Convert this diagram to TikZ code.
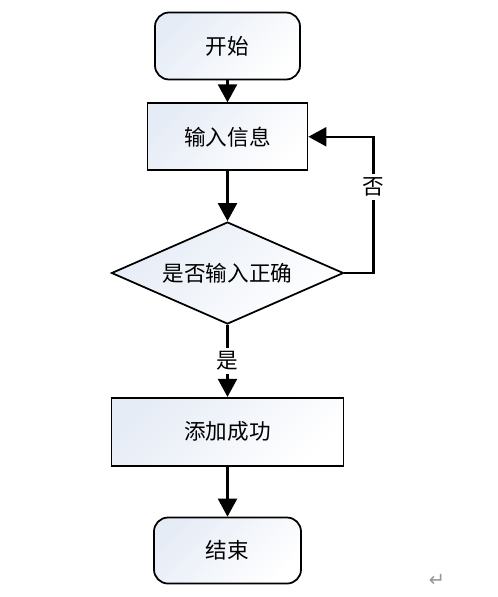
\documentclass[tikz,border=0pt]{standalone}
\usepackage{fontspec}
\setmainfont{Noto Sans CJK SC}
\newfontfamily\symfont{DejaVu Sans}
\usepackage{xcolor}
\definecolor{flowline}{RGB}{0, 0, 0}
\definecolor{boxshade}{RGB}{230, 236, 246}
\definecolor{markgray}{RGB}{150, 150, 150}
\usetikzlibrary{positioning, shapes.geometric, arrows.meta}

\begin{document}
\begin{tikzpicture}[node distance=0.5cm, >={Triangle[width=0.38cm, length=0.36cm]},
    every node/.style={font=\fontsize{12.3}{14}\selectfont},
    shadebox/.style={draw=flowline, line width=1pt, top color=boxshade, bottom color=white, shading angle=45},
    terminal/.style={shadebox, rectangle, rounded corners=0.28cm},
    process/.style={shadebox, rectangle},
    decision/.style={shadebox, diamond, aspect=2.32, inner sep=0pt},
    flow/.style={->, line width=1.3pt, draw=flowline},
    lbl/.style={fill=white, inner sep=2pt}]
    \useasboundingbox (0,0) rectangle (9.96,-11.94);

    % start and input
    \node [terminal, minimum width=2.9cm, minimum height=1.34cm] (start) at (4.55,-0.92) {开始};
    \node [process, minimum width=3.2cm, minimum height=1.34cm, below=0.44cm of start] (input) {输入信息};

    % check
    \node [decision, minimum width=4.64cm, minimum height=2.04cm, below=1.0cm of input] (check) {是否输入正确};

    % success and end
    \node [process, minimum width=4.64cm, minimum height=1.36cm, below=1.44cm of check] (added) {添加成功};
    \node [terminal, minimum width=2.94cm, minimum height=1.32cm, below=1.0cm of added] (stop) {结束};

    % connectors
    \draw [flow] (start) -- (input);
    \draw [flow] (input) -- (check);
    \draw [flow] (check) -- node [lbl] {是} (added);
    \draw [flow] (added) -- (stop);
    \draw [flow] (check.east) -- ++(0.58,0) |- node [lbl, pos=0.315] {否} (input.east);

    % paragraph mark
    \node [font=\symfont\fontsize{11}{13}\selectfont, text=markgray] (mark) at (8.74,-11.6) {↵};
\end{tikzpicture}
\end{document}
